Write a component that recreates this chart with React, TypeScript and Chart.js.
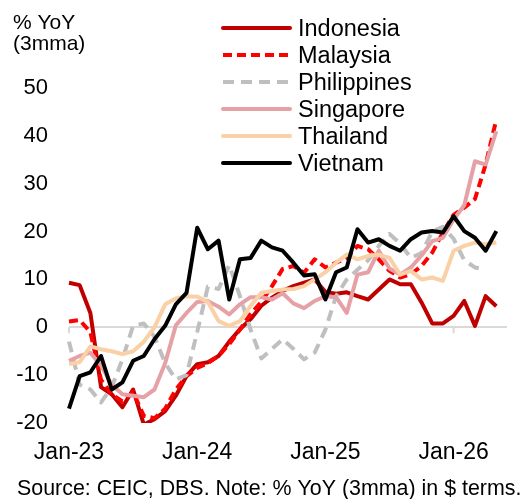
import React, { useEffect, useRef } from "react";
import { Chart, registerables } from "chart.js";

Chart.register(...registerables);

const months = [
  "Jan-23", "Feb-23", "Mar-23", "Apr-23", "May-23", "Jun-23", "Jul-23", "Aug-23", "Sep-23", "Oct-23", "Nov-23", "Dec-23",
  "Jan-24", "Feb-24", "Mar-24", "Apr-24", "May-24", "Jun-24", "Jul-24", "Aug-24", "Sep-24", "Oct-24", "Nov-24", "Dec-24",
  "Jan-25", "Feb-25", "Mar-25", "Apr-25", "May-25", "Jun-25", "Jul-25", "Aug-25", "Sep-25", "Oct-25", "Nov-25", "Dec-25",
  "Jan-26", "Feb-26", "Mar-26", "Apr-26", "May-26", "Jun-26",
];

const xTickLabels = ["Jan-23", "Jan-24", "Jan-25", "Jan-26"];
const yTickValues = [-20, -10, 0, 10, 20, 30, 40, 50];

const indonesia = [
  9.3, 8.8, 3.0, -12.5, -14.0, -16.7, -13.0, -20.3, -19.2, -17.5, -14.3, -10.2,
  -7.7, -7.3, -6.0, -3.0, -0.4, 1.7, 4.5, 6.2, 7.6, 8.6, 9.3, 10.0,
  7.4, 7.0, 7.3, 6.5, 5.8, 7.9, 10.0, 9.0, 9.0, 5.2, 0.8, 0.8,
  2.4, 5.5, 0.3, 6.5, 4.4,
];
const malaysia = [
  1.2, 1.5, -1.0, -11.0, -14.0, -15.5, -13.5, -18.5, -19.0, -17.0, -13.0, -10.2,
  -8.5, -7.5, -6.0, -3.5, -0.5, 2.8, 5.3, 8.6, 12.2, 12.8, 11.4, 14.2,
  12.5, 13.5, 14.5, 17.0, 16.3, 14.2, 11.8, 10.4, 11.1, 12.8, 15.6, 19.8,
  23.5, 25.0, 26.8, 34.0, 43.4,
];
const philippines = [
  -3.0, -12.0, -13.0, -15.7, -12.5, -6.7, 0.3, 0.8, -2.0, -7.5, -10.9, -10.0,
  -1.0, 8.5, 8.0, 13.0, 6.5, -0.5, -6.5, -4.5, -2.5, -4.5, -6.7, -5.3,
  -0.5, 6.5, 10.0, 12.0, 14.0, 17.0, 19.5, 17.5, 14.5, 15.5, 20.0, 21.0,
  18.5, 14.0, 12.5, 12.0, null,
];
const singapore = [
  -7.0, -6.0, -5.3, -8.0, -12.0, -14.0, -14.3, -14.6, -13.0, -7.5, 0.4, 3.0,
  5.3, 5.5, 4.3, 2.7, 4.8, 6.3, 6.3, 5.8, 7.1, 5.0, 4.0, 5.5,
  6.5, 6.3, 3.0, 11.0, 11.5, 16.0, 12.3, 11.0, 12.5, 15.0, 18.0, 18.7,
  22.5, 25.5, 34.7, 34.0, 41.0,
];
const thailand = [
  -7.7, -7.3, -4.0, -4.6, -5.0, -5.6, -5.0, -3.0, 0.0, 4.8, 6.0, 6.5,
  6.4, 5.3, 1.3, 0.3, 1.3, 4.5, 7.2, 7.6, 7.9, 8.0, 8.6, 10.0,
  11.5, 13.5, 15.2, 14.2, 14.9, 15.2, 14.5, 11.0, 11.8, 10.0, 10.4, 9.7,
  16.0, 17.0, 17.7, 17.3, 17.7,
];
const vietnam = [
  -17.0, -10.2, -9.4, -6.0, -13.0, -11.5, -7.0, -6.0, -2.5, 0.3, 4.8, 7.2,
  20.8, 16.3, 18.1, 5.8, 14.2, 14.5, 18.1, 16.7, 16.0, 13.5, 10.8, 11.1,
  5.8, 11.5, 12.5, 20.5, 17.7, 18.4, 17.0, 16.0, 18.4, 19.8, 20.1, 19.8,
  23.2, 20.1, 18.7, 16.0, 20.1,
];

const seriesNames = ["Indonesia", "Malaysia", "Philippines", "Singapore", "Thailand", "Vietnam"];
const seriesValues = [indonesia, malaysia, philippines, singapore, thailand, vietnam];
const seriesColors = ["#C00000", "#FF0000", "#BFBFBF", "#E6A1A6", "#FAD0A6", "#000000"];
const seriesDashes: number[][] = [[], [9, 5], [11, 7], [], [], []];

const yTitleLines = ["% YoY", "(3mma)"];
const sourceNote = "Source: CEIC, DBS. Note: % YoY (3mma) in $ terms.";

const FONT = '"Liberation Sans", Arial, Helvetica, sans-serif';

const overlayPlugin = {
  id: "overlay",
  beforeDatasetsDraw(chart: any) {
    const ctx = chart.ctx;
    const xs = chart.scales.x;
    const ys = chart.scales.y;
    const y0 = ys.getPixelForValue(0);
    ctx.save();
    ctx.strokeStyle = "#D9D9D9";
    ctx.lineWidth = 2;
    months.forEach((m, i) => {
      if (xTickLabels.includes(m)) {
        const x = xs.getPixelForValue(i);
        ctx.beginPath();
        ctx.moveTo(x, y0);
        ctx.lineTo(x, y0 + 6);
        ctx.stroke();
      }
    });
    ctx.restore();
  },
  afterDraw(chart: any) {
    const ctx = chart.ctx;
    ctx.save();
    chart.data.datasets.forEach((ds: any, i: number) => {
      const y = 28 + i * 27;
      ctx.beginPath();
      ctx.setLineDash(ds.borderDash || []);
      ctx.lineCap = ds.borderDash && ds.borderDash.length ? "butt" : "round";
      ctx.strokeStyle = ds.borderColor;
      ctx.lineWidth = 4;
      ctx.moveTo(223, y);
      ctx.lineTo(290, y);
      ctx.stroke();
      ctx.setLineDash([]);
      ctx.fillStyle = "#000";
      ctx.font = `23.5px ${FONT}`;
      ctx.textBaseline = "alphabetic";
      ctx.textAlign = "left";
      ctx.fillText(ds.label, 298, y + 8);
    });
    ctx.font = `21px ${FONT}`;
    ctx.fillStyle = "#000";
    ctx.fillText(yTitleLines[0], 13, 29);
    ctx.fillText(yTitleLines[1], 13, 50);
    ctx.font = `21.4px ${FONT}`;
    ctx.fillText(sourceNote, 17, 495);
    ctx.restore();
  },
};

export default function App() {
  const ref = useRef<HTMLCanvasElement | null>(null);

  useEffect(() => {
    document.body.style.margin = "0";
    if (!ref.current) return;
    const chart = new Chart(ref.current, {
      type: "line",
      data: {
        labels: months,
        datasets: seriesNames.map((name, i) => ({
          label: name,
          data: seriesValues[i],
          borderColor: seriesColors[i],
          backgroundColor: seriesColors[i],
          borderWidth: 4,
          borderDash: seriesDashes[i],
          borderJoinStyle: "round" as const,
          pointRadius: 0,
          tension: 0,
          fill: false,
          order: seriesNames.length - i,
        })),
      },
      options: {
        animation: false,
        responsive: false,
        devicePixelRatio: 1,
        layout: { padding: { top: 88, right: 15, bottom: 0, left: 0 } },
        plugins: {
          legend: { display: false },
          tooltip: { enabled: false },
          title: { display: false },
        },
        scales: {
          x: {
            type: "category",
            offset: false,
            grid: { display: false, drawTicks: false },
            border: { display: false },
            ticks: {
              autoSkip: false,
              maxRotation: 0,
              minRotation: 0,
              padding: 16,
              color: "#000",
              font: { family: FONT, size: 23 },
              callback: (_v: any, idx: number) => (xTickLabels.includes(months[idx]) ? months[idx] : ""),
            },
            afterFit: (scale: any) => {
              scale.height = 76;
            },
          },
          y: {
            min: yTickValues[0],
            max: yTickValues[yTickValues.length - 1],
            afterBuildTicks: (scale: any) => {
              scale.ticks = yTickValues.map((v) => ({ value: v }));
            },
            grid: {
              drawTicks: false,
              lineWidth: 2,
              color: (c: any) => (c.tick && c.tick.value === 0 ? "#D9D9D9" : "rgba(0,0,0,0)"),
            },
            border: { display: false },
            ticks: {
              padding: 21,
              color: "#000",
              font: { family: FONT, size: 22 },
            },
            afterFit: (scale: any) => {
              scale.width = 69;
            },
          },
        },
      },
      plugins: [overlayPlugin],
    });
    return () => chart.destroy();
  }, []);

  return (
    <div style={{ width: 523, height: 499, position: "relative", background: "#fff" }}>
      <canvas ref={ref} width={523} height={499} style={{ display: "block" }} />
    </div>
  );
}
